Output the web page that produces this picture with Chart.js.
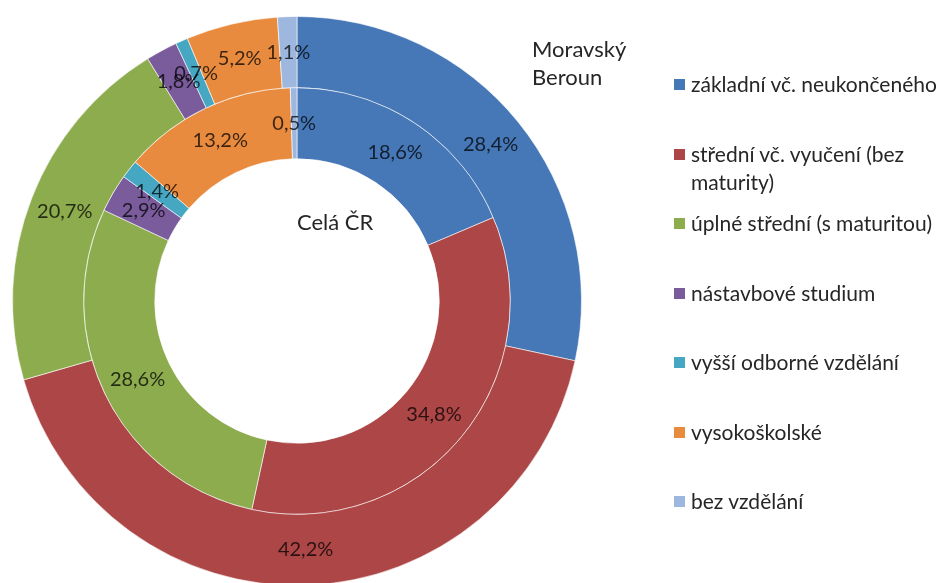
<!DOCTYPE html>
<html>
<head>
<meta charset="utf-8">
<script src="https://cdn.jsdelivr.net/npm/chart.js@4/dist/chart.umd.min.js"></script>
<style>
  html, body { margin: 0; padding: 0; background: #fff; overflow: hidden; }
  body { width: 946px; height: 583px; position: relative; font-family: Lato, "Open Sans", sans-serif; color: #222; }
  #wrap { position: absolute; left: 0; top: 0; width: 946px; height: 600px; }
  .note { position: absolute; font-size: 22px; line-height: 28px; color: #262626; }
  #legend { position: absolute; left: 674px; top: 0; width: 272px; }
  .item { position: absolute; left: 0; display: flex; align-items: flex-start; font-size: 21px; line-height: 28px; color: #262626; }
  .item .sw { width: 11px; height: 11px; margin: 9px 6px 0 0; flex: none; }
  .item .tx { width: 262px; white-space: normal; }
</style>
</head>
<body>
<div id="wrap"><canvas id="c" width="946" height="600"></canvas></div>
<div class="note" style="left:532px; top:35px;">Moravský<br>Beroun</div>
<div class="note" style="left:297px; top:208px;">Celá ČR</div>
<div id="legend"></div>
<script>
const categories = [
  'základní vč. neukončeného',
  'střední vč. vyučení (bez maturity)',
  'úplné střední (s maturitou)',
  'nástavbové studium',
  'vyšší odborné vzdělání',
  'vysokoškolské',
  'bez vzdělání'
];
const moravskyBeroun = [28.4, 42.2, 20.7, 1.8, 0.7, 5.2, 1.1];
const celaCR = [18.6, 34.8, 28.6, 2.9, 1.4, 13.2, 0.5];
const colors = ['#4677b6', '#ad4646', '#8dac4e', '#7a5b9b', '#46a7c3', '#e98b3f', '#9db7df'];

// data labels in the middle of each ring segment
const labelPlugin = {
  id: 'ringLabels',
  afterDatasetsDraw(chart) {
    const ctx = chart.ctx;
    ctx.save();
    ctx.font = '20px Lato, "Open Sans", sans-serif';
    ctx.fillStyle = 'rgba(0,0,0,0.75)';
    ctx.textAlign = 'center';
    ctx.textBaseline = 'middle';
    chart.data.datasets.forEach((ds, di) => {
      chart.getDatasetMeta(di).data.forEach((arc, i) => {
        const p = arc.getProps(['x', 'y', 'startAngle', 'endAngle', 'innerRadius', 'outerRadius'], true);
        const a = (p.startAngle + p.endAngle) / 2;
        const r = (p.innerRadius + p.outerRadius) / 2;
        const txt = ds.data[i].toFixed(1).replace('.', ',') + '%';
        ctx.fillText(txt, p.x + Math.cos(a) * r, p.y + Math.sin(a) * r);
      });
    });
    ctx.restore();
  }
};

new Chart(document.getElementById('c'), {
  type: 'doughnut',
  data: {
    labels: categories,
    datasets: [
      { label: 'Moravský Beroun', data: moravskyBeroun, backgroundColor: colors, borderColor: 'rgba(255,255,255,0.6)', borderWidth: 1 },
      { label: 'Celá ČR', data: celaCR, backgroundColor: colors, borderColor: 'rgba(255,255,255,0.6)', borderWidth: 1 }
    ]
  },
  options: {
    responsive: false,
    animation: false,
    cutout: '50%',
    layout: { padding: { left: 12, top: 16, right: 364, bottom: 14 } },
    plugins: { legend: { display: false }, tooltip: { enabled: false } }
  },
  plugins: [labelPlugin]
});

const legendEl = document.getElementById('legend');
categories.forEach((name, i) => {
  const it = document.createElement('div');
  it.className = 'item';
  it.style.top = (70 + i * 69.5) + 'px';
  it.innerHTML = '<span class="sw" style="background:' + colors[i] + '"></span><span class="tx"></span>';
  it.querySelector('.tx').textContent = name;
  legendEl.appendChild(it);
});
</script>
</body>
</html>
